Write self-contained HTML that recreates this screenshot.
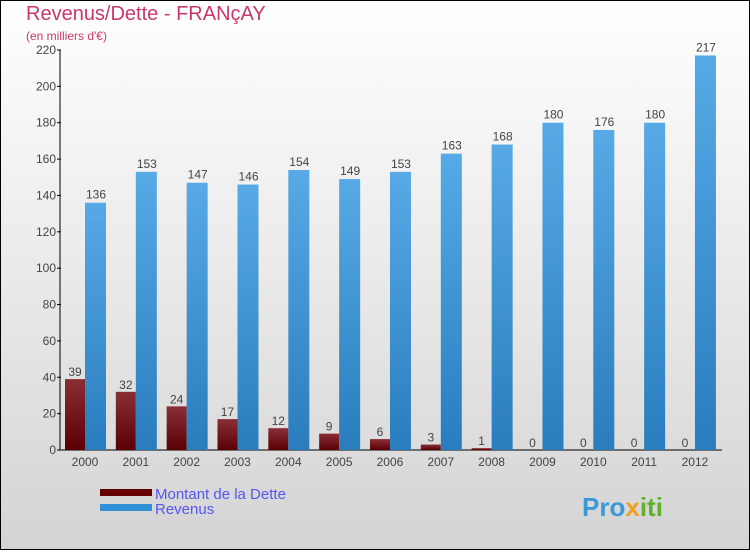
<!DOCTYPE html>
<html><head><meta charset="utf-8"><style>
body{margin:0;width:750px;height:550px;overflow:hidden;font-family:"Liberation Sans",sans-serif}
</style></head><body>
<svg width="750" height="550" xmlns="http://www.w3.org/2000/svg">
<defs>
<linearGradient id="bg" x1="0" y1="0" x2="0" y2="1"><stop offset="0" stop-color="#ffffff"/><stop offset="1" stop-color="#d4d4d4"/></linearGradient>
<linearGradient id="rev" x1="0" y1="0" x2="0" y2="1"><stop offset="0" stop-color="#57aae6"/><stop offset="1" stop-color="#2a7dbd"/></linearGradient>
<linearGradient id="debt" x1="0" y1="0" x2="0" y2="1"><stop offset="0" stop-color="#8a2e36"/><stop offset="1" stop-color="#5a0004"/></linearGradient>
</defs>
<rect x="0.5" y="0.5" width="749" height="549" fill="url(#bg)" stroke="#000"/>
<text x="26" y="20" font-size="20" fill="#c8386a">Revenus/Dette - FRANçAY</text>
<text x="26" y="40" font-size="12" fill="#c8386a">(en milliers d'€)</text>
<g id="ax"></g>
<g id="bars"></g>
<rect x="100" y="489" width="52" height="7" fill="#660000"/>
<rect x="100" y="504" width="52" height="7" fill="#3090d8"/>
<text x="155" y="499" font-size="15" fill="#5555ee">Montant de la Dette</text>
<text x="155" y="514" font-size="15" fill="#5555ee">Revenus</text>
<text x="582" y="516" font-size="26" font-weight="bold" fill="#3a9ad8">Pro<tspan fill="#f0a020">x</tspan><tspan fill="#60b030">iti</tspan></text>
</svg>
<script>
const years=["2000","2001","2002","2003","2004","2005","2006","2007","2008","2009","2010","2011","2012"];
const debt=[39,32,24,17,12,9,6,3,1,0,0,0,0];
const revenus=[136,153,147,146,154,149,153,163,168,180,176,180,217];
const yTicks=[0,20,40,60,80,100,120,140,160,180,200,220];
const NS="http://www.w3.org/2000/svg";
const y=v=>450-v*400/220;
const cx=i=>85+i*50.83;
function mk(tag,attrs,parent,txt){const e=document.createElementNS(NS,tag);for(const k in attrs)e.setAttribute(k,attrs[k]);if(txt!==undefined)e.textContent=txt;parent.appendChild(e);return e;}
const ax=document.getElementById('ax'),bars=document.getElementById('bars');
let e=mk('line',{x1:60,y1:50,x2:60,y2:450,stroke:'#000'},ax);


e=mk('line',{x1:60,y1:450,x2:722,y2:450,stroke:'#000'},ax);


yTicks.forEach(t=>{
  let l=mk('line',{x1:57,y1:y(t),x2:61,y2:y(t),stroke:'#000'},ax);
  
  
  let tx=mk('text',{x:56,y:y(t)+4,'font-size':12,fill:'#444','text-anchor':'end'},ax,t);
  
  
});
years.forEach((yr,i)=>{
  const c=cx(i);
  let tx=mk('text',{x:c,y:466,'font-size':12,fill:'#444','text-anchor':'middle'},ax,yr);
  
  
  let b=mk('rect',{x:c-20,y:y(debt[i]),width:20,height:450-y(debt[i]),fill:'url(#debt)'},bars);
  
  
  let lb=mk('text',{x:c-10,y:y(debt[i])-3,'font-size':12,fill:'#444','text-anchor':'middle'},bars,debt[i]);
  
  
  let r=mk('rect',{x:c,y:y(revenus[i]),width:21,height:450-y(revenus[i]),fill:'url(#rev)'},bars);
  
  
  let lr=mk('text',{x:c+11,y:y(revenus[i])-4,'font-size':12,fill:'#444','text-anchor':'middle'},bars,revenus[i]);
  
  
});
</script>
</body></html>
